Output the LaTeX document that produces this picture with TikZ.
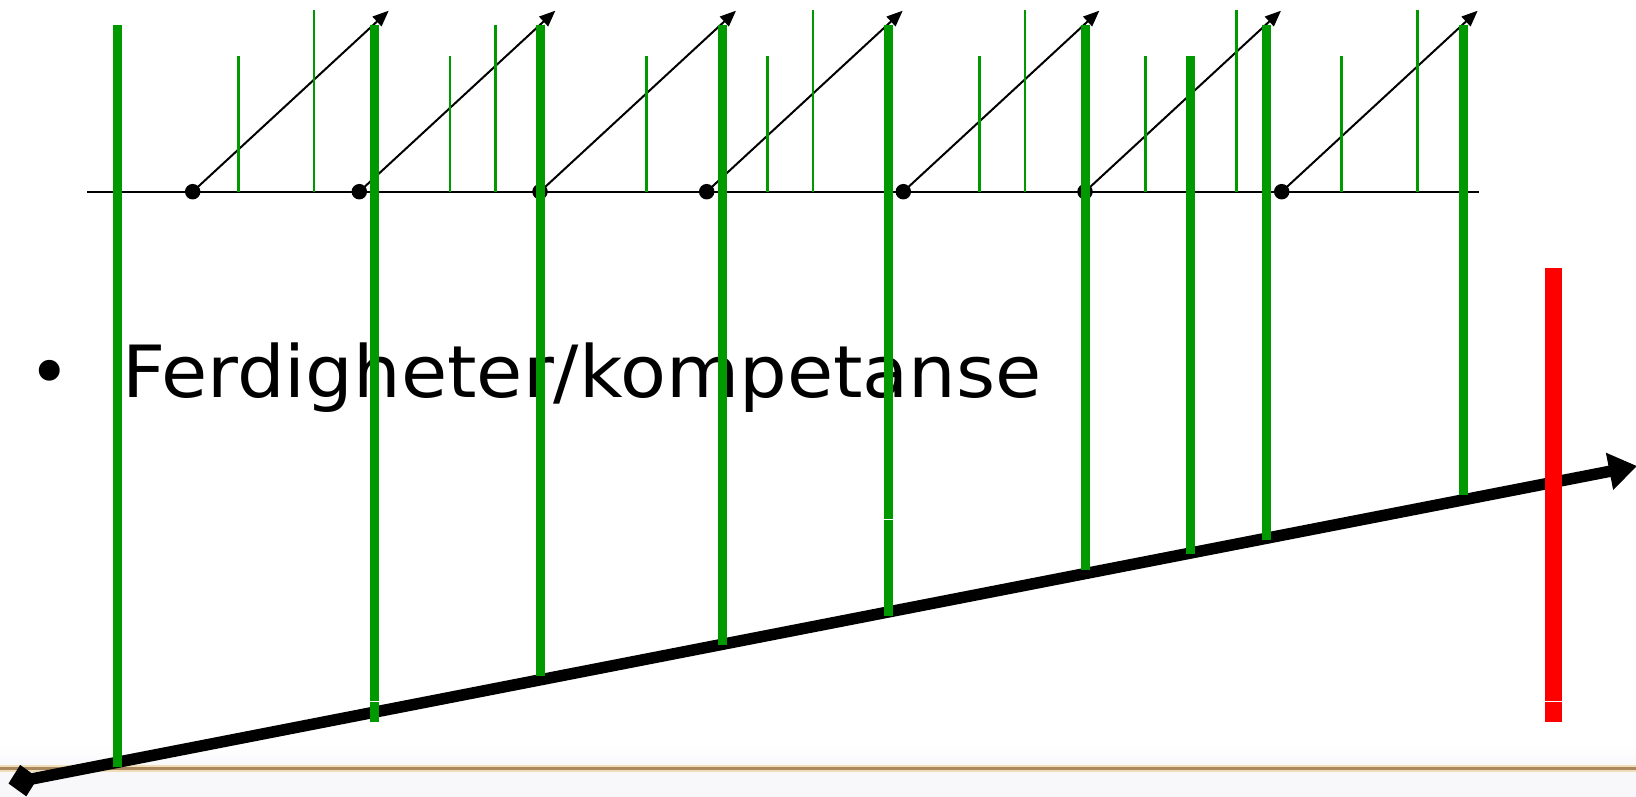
\documentclass[tikz,border=0pt]{standalone}
\usepackage{fontspec}
\setmainfont{DejaVu Sans}
\usetikzlibrary{arrows.meta}
\definecolor{bargreen}{RGB}{0,153,0}
\definecolor{brownline}{RGB}{168,136,92}
\definecolor{brownhalo}{RGB}{240,222,186}
\definecolor{footbg}{RGB}{248,248,251}
\begin{document}
\begin{tikzpicture}[x=1pt,y=-1pt,
  thickbar/.style={bargreen, line width=9pt},
  thinbar/.style={bargreen, line width=2.7pt},
  axisline/.style={black, line width=2pt},
  risearrow/.style={black, line width=2pt, -{Triangle[length=16pt,width=13pt]}},
  dotnode/.style={circle, fill=black, inner sep=0pt, minimum size=15.5pt},
  mainarrow/.style={black, line width=11.5pt, {Diamond[length=30pt,width=32pt]}-{Triangle[length=28pt,width=36pt]}},
  gapline/.style={white, line width=1pt},
  bigtext/.style={inner sep=0pt, font=\fontsize{72}{80}\selectfont}]
\useasboundingbox (0,0) rectangle (1636,797);
\fill[white] (0,0) rectangle (1636,797);
% footer band
\shade[top color=white, bottom color=footbg] (0,745) rectangle (1636,766);
\fill[footbg] (0,769) rectangle (1636,797);
\draw[brownhalo, line width=7pt] (0,768.3) -- (1636,768.3);
\draw[brownline, line width=3.2pt] (0,768.3) -- (1636,768.3);
% text
\node[bigtext, anchor=base] (bullet) at (49.5,397.3) {•};
\node[bigtext, anchor=base west, xscale=1.044] (skill) at (122,397.3) {Ferdigheter/kompetanse};
% axis
\coordinate (axL) at (87,191.7);
\coordinate (axR) at (1479,191.7);
\draw[axisline] (axL) -- (axR);
% dots and rising arrows
\foreach \i/\x in {1/192.7,2/359.3,3/540,4/706.7,5/903.3,6/1085,7/1281.7}{
  \node[dotnode] (d\i) at (\x,191.7) {};
  \coordinate (t\i) at ({\x+196},10.7);
  \draw[risearrow] (d\i.center) -- (t\i);
}
% thin green bars
\foreach \x/\t in {238.3/56,314/10,450/56,495.3/25,646.3/56,767.3/56,813/10,979.3/56,1025/10,1145.7/56,1236.3/10,1341.7/56,1417.7/10}{
  \draw[thinbar] (\x,\t) -- (\x,191.7);
}
% main arrow
\coordinate (tail) at (8.5,783.5);
\coordinate (head) at (1637,466);
\draw[mainarrow] (tail) -- (head);
% thick green bars
\foreach \x/\t/\b in {117.5/25/766.7,374.5/25/721.7,540.3/25/676,722.7/25/645,888.3/25/615.6,1085.3/25/569.7,1190.3/56/554,1266.3/25/539.5,1463.3/25/495}{
  \draw[thickbar] (\x,\t) -- (\x,\b);
}
% red bar
\draw[red, line width=17pt] (1553.5,268) -- (1553.5,721.7);
% small white gaps
\draw[gapline] (369.5,701) -- (379.5,701);
\draw[gapline] (883.3,519.6) -- (893.3,519.6);
\draw[gapline] (1544.5,701) -- (1562.5,701);
\end{tikzpicture}
\end{document}
